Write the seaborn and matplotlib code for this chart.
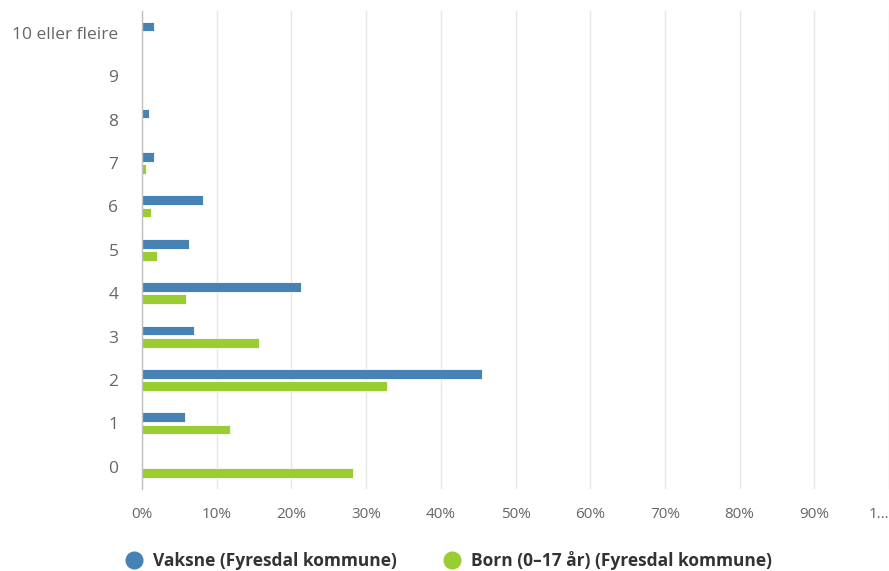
import matplotlib
matplotlib.use("Agg")
import matplotlib.pyplot as plt
from matplotlib.lines import Line2D
import seaborn as sns
import pandas as pd

categories = ["10 eller fleire", "9", "8", "7", "6", "5", "4", "3", "2", "1", "0"]
vaksne = [1.65, 0.0, 1.0, 1.65, 8.1, 6.3, 21.3, 6.9, 45.5, 5.7, 0.0]
born = [0.0, 0.0, 0.0, 0.6, 1.25, 2.0, 5.9, 15.6, 32.8, 11.8, 28.3]
series_names = ["Vaksne (Fyresdal kommune)", "Born (0\u201317 år) (Fyresdal kommune)"]
colors = ["#4682b4", "#9acd32"]
xticks = [0, 10, 20, 30, 40, 50, 60, 70, 80, 90, 100]
xticklabels = ["0%", "10%", "20%", "30%", "40%", "50%", "60%", "70%", "80%", "90%", "1\u2026"]

rows = []
for c, v in zip(categories, vaksne):
    rows.append({"cat": c, "series": series_names[0], "value": v})
for c, v in zip(categories, born):
    rows.append({"cat": c, "series": series_names[1], "value": v})
df = pd.DataFrame(rows)

sns.set_theme(style="white")
plt.rcParams["font.family"] = ["Open Sans", "DejaVu Sans"]

fig = plt.figure(figsize=(8.89, 5.71), dpi=100)
ax = fig.add_axes([142 / 889, 1 - 488.5 / 571, 1 - 142 / 889, (488.5 - 11) / 571])

sns.barplot(data=df, y="cat", x="value", hue="series", order=categories,
            hue_order=series_names, palette=colors, orient="h", saturation=1,
            width=0.56, gap=0.2, errorbar=None, ax=ax,
            edgecolor="white", linewidth=0.6, legend=False)

ax.set_xlim(0, 100)
ax.set_ylim(len(categories) - 0.5, -0.5)
ax.set_xticks(xticks)
ax.set_xticklabels(xticklabels)
ax.set_xlabel("")
ax.set_ylabel("")
ax.xaxis.grid(True, color="#e6e6e6", linewidth=1)
ax.yaxis.grid(False)
ax.set_axisbelow(True)
for s in ["top", "right", "bottom"]:
    ax.spines[s].set_visible(False)
ax.spines["left"].set_color("#c0c0c0")
ax.spines["left"].set_linewidth(1)
ax.tick_params(axis="x", length=0, pad=13, labelsize=11, labelcolor="#666666")
ax.tick_params(axis="y", length=0, pad=17, labelsize=12.5, labelcolor="#666666")
last = ax.get_xticklabels()[-1]
last.set_horizontalalignment("right")

handles = [Line2D([0], [0], marker="o", linestyle="", markersize=12,
                  markerfacecolor=col, markeredgecolor=col) for col in colors]
fig.legend(handles, series_names, loc="lower center", bbox_to_anchor=(0.5, -0.025),
           ncol=2, frameon=False, handletextpad=0.1, columnspacing=2.2,
           prop={"size": 12.5, "weight": "bold"}, labelcolor="#333333")

fig.savefig("out.png", dpi=100)
